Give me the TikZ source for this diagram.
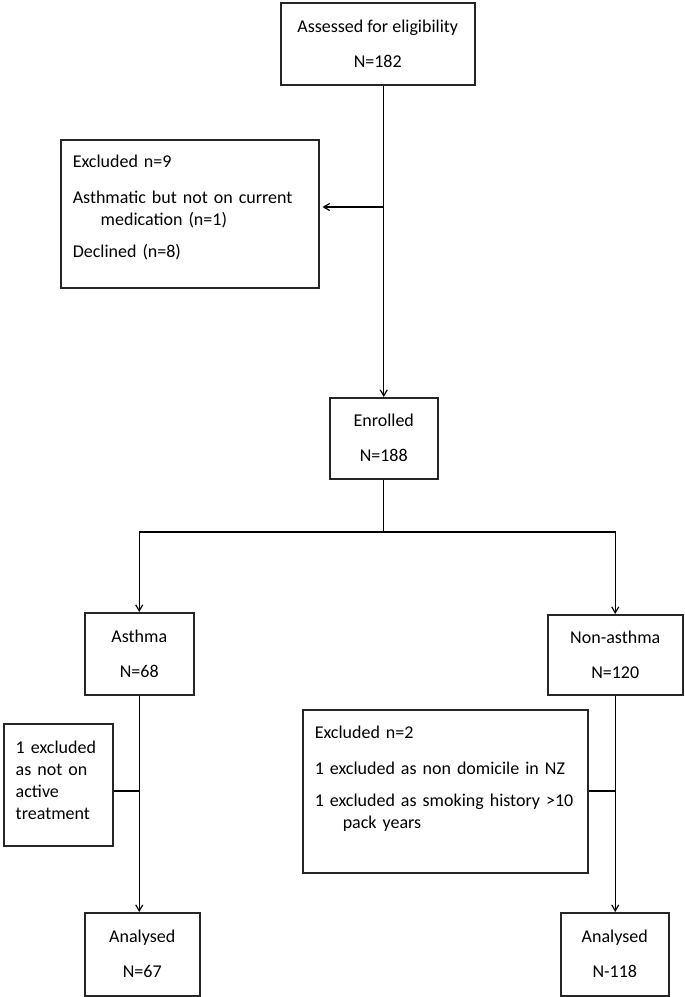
\documentclass[tikz,border=0pt]{standalone}
\usepackage{fontspec}
\setmainfont{Carlito}
\usetikzlibrary{arrows.meta,positioning,calc}

\begin{document}
\begin{tikzpicture}[x=1pt,y=-1pt,
    font=\fontsize{18}{22}\selectfont,
    box/.style={draw=black!85,line width=1.5pt,align=center,inner sep=0pt},
    exbox/.style={draw=black!85,line width=1.5pt,align=left,inner xsep=12pt,inner ysep=8pt,anchor=north west},
    arr/.style={-{Straight Barb[length=6pt,width=7pt]},line width=1.2pt}]
    \useasboundingbox (0,0) rectangle (685,997);
    % boxes
    \node[box,anchor=north west,minimum width=194pt,minimum height=82pt] (assess) at (280,2) {Assessed for eligibility\\[13pt]N=182};
    \node[exbox,text width=234pt,text height=20pt,text depth=112pt] (excl1) at (60,139) {Excluded n=9\\[14pt]Asthmatic but not on current\\\hspace*{28pt}medication (n=1)\\[10pt]Declined (n=8)};
    \node[box,anchor=north west,minimum width=108pt,minimum height=81pt] (enrol) at (329,397) {Enrolled\\[13pt]N=188};
    \node[box,anchor=north west,minimum width=109pt,minimum height=82pt] (asthma) at (84,612) {Asthma\\[13pt]N=68};
    \node[box,anchor=north west,minimum width=135pt,minimum height=80pt] (nonasth) at (547,614) {Non-asthma\\[13pt]N=120};
    \node[exbox,text width=85pt,text height=22pt,text depth=84pt] (excl2) at (3,723) {1 excluded\\as not on\\active\\treatment};
    \node[exbox,text width=261pt,text height=21pt,text depth=126pt] (excl3) at (302,709) {Excluded n=2\\[14pt]1 excluded as non domicile in NZ\\[10pt]1 excluded as smoking history >10\\\hspace*{28pt}pack years};
    \node[box,anchor=north west,minimum width=115pt,minimum height=83pt] (anal1) at (84,912) {Analysed\\[13pt]N=67};
    \node[box,anchor=north west,minimum width=108pt,minimum height=83pt] (anal2) at (560,912) {Analysed\\[13pt]N-118};
    % connectors
    \coordinate (exjoin) at (enrol.north |- 0,207);
    \coordinate (split) at (enrol.south |- 0,532);
    \coordinate (ajoin) at (asthma.south |- 0,791);
    \coordinate (njoin) at (nonasth.south |- 0,791);
    \draw[arr] (assess.south -| enrol.north) -- (enrol.north);
    \draw[arr,shorten >=3pt] (exjoin) -- (exjoin -| excl1.east);
    \draw[line width=1.2pt] (enrol.south) -- (split);
    \draw[arr] (split) -| (asthma.north);
    \draw[arr] (split) -| (nonasth.north);
    \draw[arr] (asthma.south) -- (asthma.south |- anal1.north);
    \draw[arr] (nonasth.south) -- (nonasth.south |- anal2.north);
    \draw[line width=1.2pt] (ajoin) -- (ajoin -| excl2.east);
    \draw[line width=1.2pt] (njoin) -- (njoin -| excl3.east);
\end{tikzpicture}
\end{document}
